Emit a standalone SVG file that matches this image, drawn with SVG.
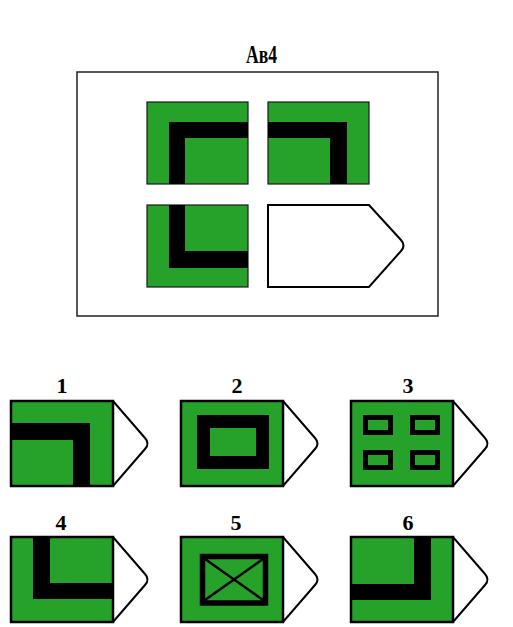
<svg xmlns="http://www.w3.org/2000/svg" width="513" height="627" viewBox="0 0 513 627">
<defs>
<style>
.g{fill:#26A22B;stroke:#1a1a1a;stroke-width:1.2}
.og{fill:#26A22B;stroke:#000;stroke-width:2.5}
.k{fill:#000}
.pent{fill:#fff;stroke:#000;stroke-width:2}
.lbl{font-family:"Liberation Serif",serif;font-weight:bold;font-size:22px;fill:#000;text-anchor:middle}
.ttl{font-family:"Liberation Serif",serif;font-weight:bold;font-size:26px;fill:#000}
.fr{fill:none;stroke:#000;stroke-width:5}
</style>
<path id="opt" class="pent" d="M0,0 H102 L134,37 Q139,42.5 134,48 L102,85 H0 Z"/>
</defs>
<rect width="513" height="627" fill="#fff"/>
<text x="246" y="63" class="ttl" textLength="31" lengthAdjust="spacingAndGlyphs">Ав4</text>
<g id="frame"><rect x="77" y="72" width="361" height="244" fill="none" stroke="#222" stroke-width="1.5"/></g>
<g id="cell-tl"><rect class="g" x="147" y="102" width="101" height="82"/><path class="k" d="M169,122 H248 V138 H185 V184 H169 Z"/></g>
<g id="cell-tr"><rect class="g" x="268" y="102" width="101" height="82"/><path class="k" d="M268,122 H347 V184 H330 V138 H268 Z"/></g>
<g id="cell-bl"><rect class="g" x="147" y="205" width="101" height="82"/><path class="k" d="M169,205 H185 V251 H248 V268 H169 Z"/></g>
<g id="cell-br"><path class="pent" d="M268,205 H369 L401,240 Q406,245.5 401,251 L369,287 H268 Z"/></g>
<g id="option1" transform="translate(11,401)">
<use href="#opt"/><rect class="og" x="0" y="0" width="102" height="85"/>
<path class="k" d="M0,22 H79 V85 H62 V39 H0 Z"/>
<text x="51" y="-8" class="lbl">1</text>
</g>
<g id="option2" transform="translate(181,401)">
<use href="#opt"/><rect class="og" x="0" y="0" width="102" height="85"/>
<path class="k" fill-rule="evenodd" d="M16,14 H88 V68 H16 Z M29,27 H75 V55 H29 Z"/>
<text x="56" y="-8" class="lbl">2</text>
</g>
<g id="option3" transform="translate(351,401)">
<use href="#opt"/><rect class="og" x="0" y="0" width="102" height="85"/>
<rect class="fr" x="14.5" y="16.5" width="25" height="15"/>
<rect class="fr" x="61.5" y="16.5" width="25" height="15"/>
<rect class="fr" x="14.5" y="51.5" width="25" height="15"/>
<rect class="fr" x="61.5" y="51.5" width="25" height="15"/>
<text x="57" y="-8" class="lbl">3</text>
</g>
<g id="option4" transform="translate(11,537)">
<use href="#opt"/><rect class="og" x="0" y="0" width="102" height="85"/>
<path class="k" d="M22,0 H39 V46 H102 V62 H22 Z"/>
<text x="50" y="-7" class="lbl">4</text>
</g>
<g id="option5" transform="translate(181,537)">
<use href="#opt"/><rect class="og" x="0" y="0" width="102" height="85"/>
<rect x="21.5" y="19.5" width="63" height="46.5" fill="none" stroke="#000" stroke-width="5.5"/>
<path d="M24,22 L82,63 M82,22 L24,63" stroke="#000" stroke-width="2.5"/>
<text x="55" y="-7" class="lbl">5</text>
</g>
<g id="option6" transform="translate(351,537)">
<use href="#opt"/><rect class="og" x="0" y="0" width="102" height="85"/>
<path class="k" d="M63,0 H80 V63 H0 V47 H63 Z"/>
<text x="57" y="-7" class="lbl">6</text>
</g>
</svg>
